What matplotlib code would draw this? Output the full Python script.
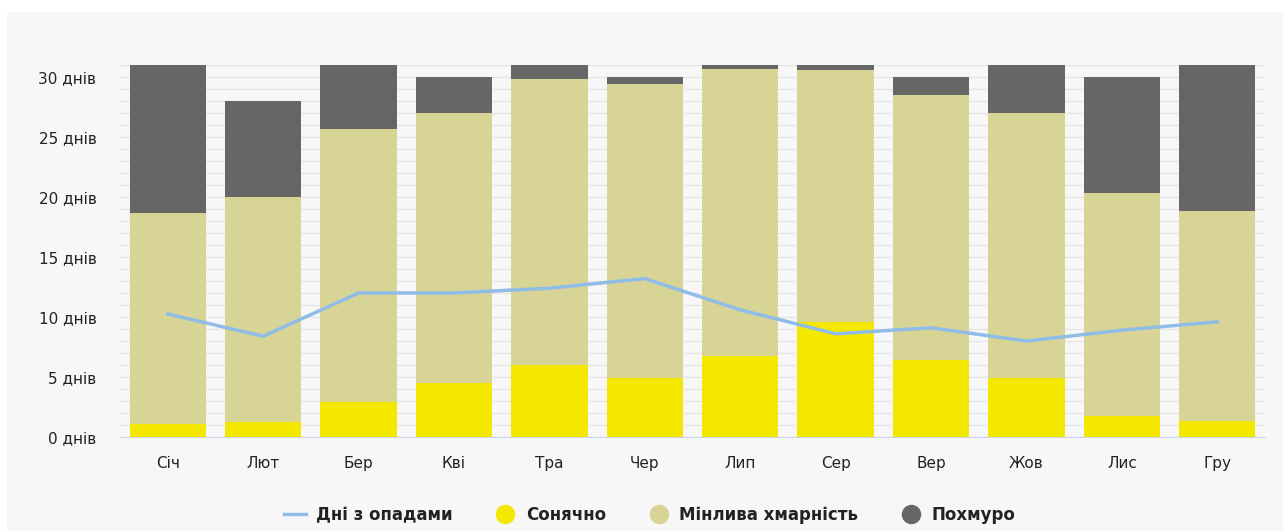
import numpy as np
import matplotlib.pyplot as plt
from matplotlib.lines import Line2D
from matplotlib.patches import Rectangle

months = ['Січ', 'Лют', 'Бер', 'Кві', 'Тра', 'Чер', 'Лип', 'Сер', 'Вер', 'Жов', 'Лис', 'Гру']
# cumulative tops
sunny = np.array([1.1, 1.25, 2.9, 4.5, 6.0, 4.9, 6.75, 9.6, 6.4, 4.9, 1.75, 1.3])
mixed_top = np.array([18.7, 20.0, 25.7, 27.0, 29.8, 29.4, 30.7, 30.6, 28.5, 27.0, 20.3, 18.8])
total = np.array([31, 28, 31, 30, 31, 30, 31, 31, 30, 31, 30, 31])
precip = [10.25, 8.4, 12.0, 12.0, 12.4, 13.2, 10.6, 8.6, 9.1, 8.0, 8.9, 9.6]

mixed = mixed_top - sunny
overcast = total - mixed_top

c_sun = '#f4e800'
c_mixed = '#d8d495'
c_over = '#666666'
c_line = '#90bce8'

W, H = 1283, 531
fig = plt.figure(figsize=(W / 100, H / 100), dpi=100)
fig.patch.set_facecolor('white')
fig.add_artist(Rectangle((7 / W, 0), 1 - 7 / W, (H - 12) / H, transform=fig.transFigure,
                         facecolor='#f7f7f7', edgecolor='none', zorder=-10))

ax = fig.add_axes([120 / W, (H - 437) / H, 1145 / W, (437 - 65) / H])
ax.set_facecolor('none')

x = np.arange(len(months))
bw = 0.8
ax.bar(x, sunny, bw, color=c_sun, zorder=2)
ax.bar(x, mixed, bw, bottom=sunny, color=c_mixed, zorder=2)
ax.bar(x, overcast, bw, bottom=mixed_top, color=c_over, zorder=2)
ax.plot(x, precip, color=c_line, lw=2.5, zorder=3)

ax.set_xlim(-0.5, len(months) - 0.5)
ax.set_ylim(0, 31)
ax.set_yticks(np.arange(0, 31, 5))
ax.set_yticklabels([f'{v} днів' for v in range(0, 31, 5)], fontsize=11, color='#222222')
ax.set_yticks(np.arange(0, 32, 1), minor=True)
ax.grid(axis='y', which='both', color='#e6e6e6', lw=1, zorder=0)
ax.set_axisbelow(True)
ax.set_xticks(x)
ax.set_xticklabels(months, fontsize=11, color='#222222')
ax.tick_params(axis='both', which='both', length=0)
ax.tick_params(axis='x', pad=14)
ax.tick_params(axis='y', pad=17)
for s in ['top', 'right', 'left']:
    ax.spines[s].set_visible(False)
ax.spines['bottom'].set_color('#ccd6eb')

handles = [
    Line2D([0], [0], color=c_line, lw=2.5),
    Line2D([0], [0], marker='o', ls='none', markersize=13, markerfacecolor=c_sun, markeredgecolor=c_sun),
    Line2D([0], [0], marker='o', ls='none', markersize=13, markerfacecolor=c_mixed, markeredgecolor=c_mixed),
    Line2D([0], [0], marker='o', ls='none', markersize=13, markerfacecolor=c_over, markeredgecolor=c_over),
]
labels = ['Дні з опадами', 'Сонячно', 'Мінлива хмарність', 'Похмуро']
leg = fig.legend(handles, labels, loc='center', bbox_to_anchor=(650 / W, (H - 515) / H), ncol=4,
                 frameon=False, prop={'weight': 'bold', 'size': 12}, handlelength=1.3,
                 handletextpad=0.6, columnspacing=2.5)
for t in leg.get_texts():
    t.set_color('#222222')

fig.savefig('out.png', dpi=100)
